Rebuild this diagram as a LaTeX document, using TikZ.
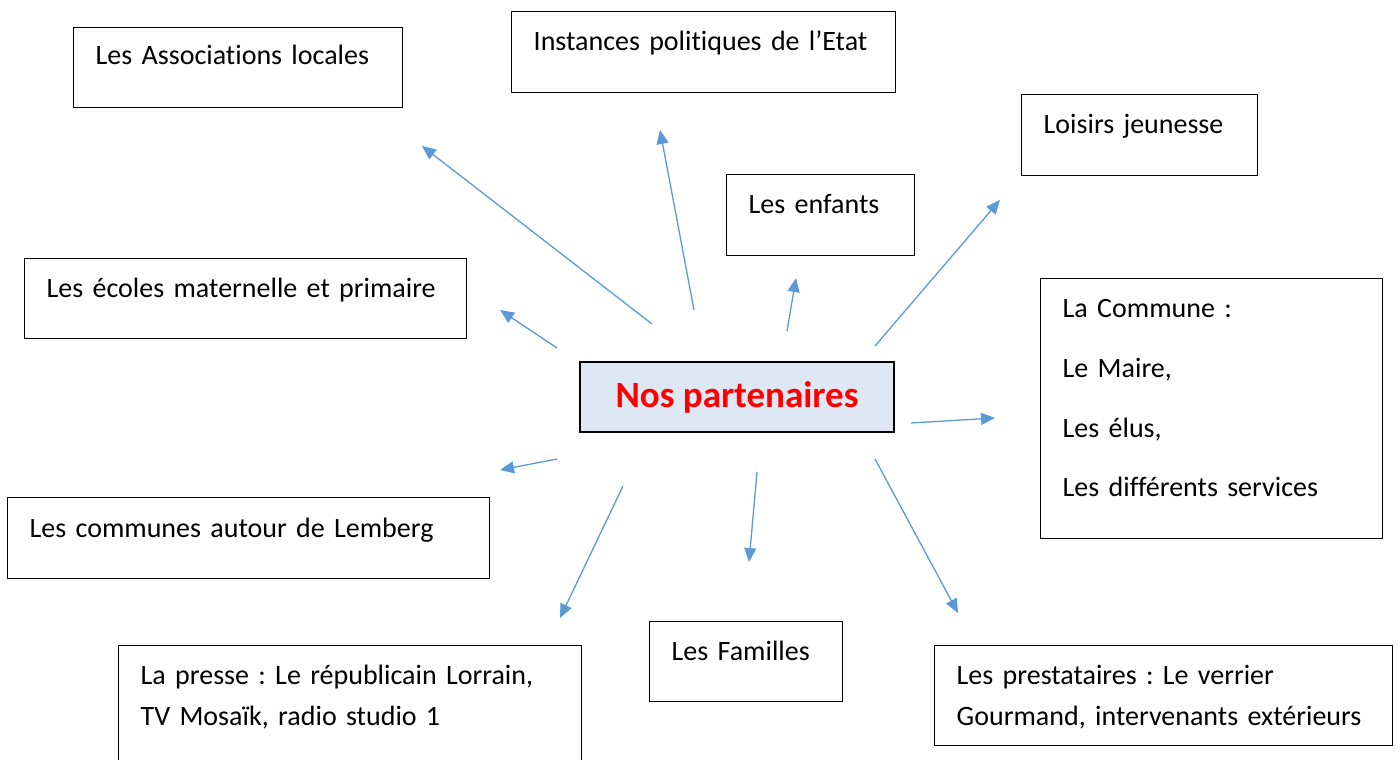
\documentclass[tikz,border=0pt]{standalone}
\usepackage{fontspec}
\setmainfont{Carlito}[Ligatures=NoCommon]
\usetikzlibrary{arrows.meta}
\definecolor{arrblue}{HTML}{5B9BD5}
\definecolor{centerfill}{HTML}{DEE8F5}
\tikzset{
  box/.style={draw=black, line width=1.4pt, anchor=north west, align=left, inner xsep=22pt, inner ysep=0pt, font=\fontsize{28}{32}\selectfont},
  arr/.style={draw=arrblue, line width=1.3pt, -{Triangle[length=14pt,width=12pt]}},
}
\begin{document}
\frenchspacing
\begin{tikzpicture}[x=1pt,y=-1pt]
\useasboundingbox (0,0) rectangle (1400,760);
% boxes
\node[box, text width=285pt, text height=37pt, text depth=43pt] (assoc) at (73,27) {Les Associations locales};
\node[box, text width=340pt, text height=39pt, text depth=42pt] (inst) at (511,11) {Instances politiques de l’Etat};
\node[box, text width=192pt, text height=39pt, text depth=42pt] (loisirs) at (1021,94) {Loisirs jeunesse};
\node[box, text width=144pt, text height=39pt, text depth=42pt] (enfants) at (726,174) {Les enfants};
\node[box, text width=398pt, text height=39pt, text depth=41pt] (ecoles) at (24,258) {Les écoles maternelle et primaire};
\node[box, text width=298pt, text height=39pt, text depth=221pt, font=\fontsize{28}{59.7}\selectfont] (commune) at (1040,278) {La Commune :\\Le Maire,\\Les élus,\\Les différents services};
\node[box, text width=438pt, text height=40pt, text depth=41pt] (autour) at (7,497) {Les communes autour de Lemberg};
\node[box, text width=419pt, text height=39pt, text depth=85pt, font=\fontsize{28}{41}\selectfont] (presse) at (118,645) {La presse : Le républicain Lorrain,\\TV Mosaïk, radio studio 1};
\node[box, text width=149pt, text height=39pt, text depth=41pt] (familles) at (649,621) {Les Familles};
\node[box, text width=414pt, text height=39pt, text depth=61pt, font=\fontsize{28}{41}\selectfont] (presta) at (934,645) {Les prestataires : Le verrier\\Gourmand, intervenants extérieurs};
\node[draw=black, line width=2pt, fill=centerfill, minimum width=314pt, minimum height=70pt, inner sep=0pt, text=red, font=\fontsize{37}{40}\selectfont\bfseries] (center) at (737,397) {Nos partenaires};
% arrows
\coordinate (s1) at (652,324); \coordinate (e1) at (422,146);
\coordinate (s2) at (694,310); \coordinate (e2) at (660,130);
\coordinate (s3) at (787,331); \coordinate (e3) at (796,278);
\coordinate (s4) at (875,346); \coordinate (e4) at (1000,200);
\coordinate (s5) at (557,348); \coordinate (e5) at (500,310);
\coordinate (s6) at (911,423); \coordinate (e6) at (995,418);
\coordinate (s7) at (557,459); \coordinate (e7) at (500,470);
\coordinate (s8) at (623,486); \coordinate (e8) at (560,618);
\coordinate (s9) at (757,472); \coordinate (e9) at (749,562);
\coordinate (s10) at (875,459); \coordinate (e10) at (958,613);
\foreach \i in {1,...,10} { \draw[arr] (s\i) -- (e\i); }
\end{tikzpicture}
\end{document}
